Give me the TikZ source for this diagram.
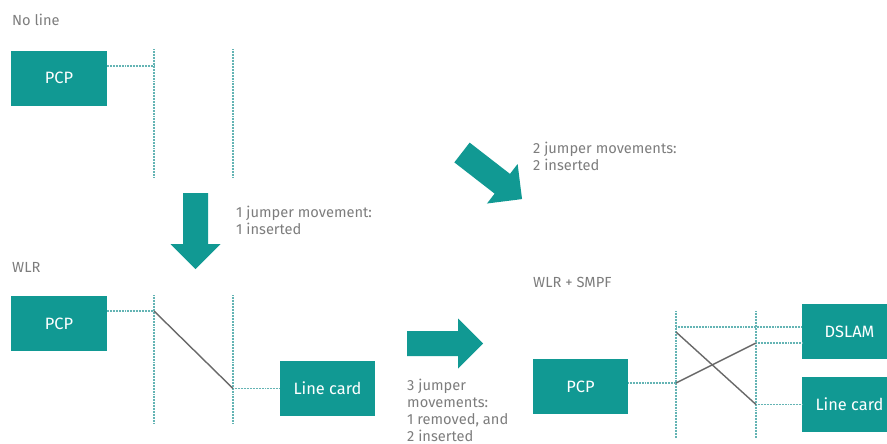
\documentclass[tikz,border=0pt]{standalone}
\usepackage{fontspec}
\setmainfont{Fira Sans}
\usetikzlibrary{positioning}
\definecolor{boxteal}{RGB}{17,153,147}
\definecolor{framedot}{RGB}{100,180,180}
\definecolor{labelgrey}{RGB}{125,125,125}
\definecolor{jumpergrey}{RGB}{105,105,105}
\tikzset{
    unitbox/.style={fill=boxteal, text=white, minimum width=2.85cm, minimum height=1.65cm,
        inner sep=0pt, font=\fontsize{14}{16}\selectfont},
    caption/.style={text=labelgrey, inner sep=0pt, anchor=base west, align=left,
        font=\fontsize{12.5}{14.3}\selectfont},
    framedots/.style={draw=framedot, line width=0.9pt, dash pattern=on 0.7pt off 0.6pt},
    jumper/.style={draw=jumpergrey, line width=1.2pt},
    bigarrow/.pic={
        \fill[boxteal] (0,-12.5) -- (51,-12.5) -- (51,-25) -- (76,0) -- (51,25) -- (51,12.5) -- (0,12.5) -- cycle;
    }
}
\begin{document}
\begin{tikzpicture}[x=0.03cm, y=-0.03cm]
        \useasboundingbox (0,0) rectangle (887,444);
        \path[clip] (0,0) rectangle (887,444);

        % frames
        \foreach \x in {154,233}
            {
                \draw[framedots] (\x,49) -- (\x,177);
                \draw[framedots] (\x,295) -- (\x,423);
            }
        \foreach \x in {676,756}
            {
                \draw[framedots] (\x,311) -- (\x,438);
            }

        % no line
        \node[caption] (noline) at (12,25.5) {No line};
        \node[unitbox] (pcpA) at (59,78) {PCP};
        \coordinate (frameA) at (154,66);
        \draw[framedots] (pcpA.east |- frameA) -- (frameA);

        % WLR
        \node[caption] (wlr) at (12,272) {WLR};
        \node[unitbox] (pcpB) at (59,323.5) {PCP};
        \node[unitbox] (cardB) at (327.5,388.5) {Line card};
        \coordinate (frameBl) at (154,311);
        \coordinate (frameBr) at (233,388.5);
        \draw[framedots] (pcpB.east |- frameBl) -- (frameBl);
        \draw[framedots] (frameBr) -- (cardB.west);
        \draw[jumper] (frameBl) -- (frameBr);

        % WLR + SMPF
        \node[caption] (wlrsmpf) at (533,287) {WLR + SMPF};
        \node[unitbox] (pcpC) at (580.5,386.5) {PCP};
        \node[unitbox] (dslam) at (849.5,331.5) {DSLAM};
        \node[unitbox] (cardC) at (849.5,404.5) {Line card};
        \coordinate (lineIn) at (676,383);
        \coordinate (dslamTop) at (676,327);
        \coordinate (jumpTop) at (676,332);
        \coordinate (frameCr1) at (756,343);
        \coordinate (frameCr2) at (756,404.5);
        \draw[framedots] (pcpC.east |- lineIn) -- (lineIn);
        \draw[framedots] (dslamTop) -- (dslamTop -| dslam.west);
        \draw[framedots] (frameCr1) -- (frameCr1 -| dslam.west);
        \draw[framedots] (frameCr2) -- (cardC.west);
        \draw[jumper] (jumpTop) -- (frameCr2);
        \draw[jumper] (lineIn) -- (frameCr1);

        % moves (base anchor sits on the last line)
        \pic[rotate=-90] at (195.5,193) {bigarrow};
        \pic at (407,343.5) {bigarrow};
        \pic[rotate=-37.8] at (462,152.5) {bigarrow};
        \node[caption] (movesA) at (236,234) {1 jumper movement:\\1 inserted};
        \node[caption] (movesB) at (533,170) {2 jumper movements:\\2 inserted};
        \node[caption] (movesC) at (407,441) {3 jumper\\movements:\\1 removed, and\\2 inserted};
    \end{tikzpicture}
\end{document}
